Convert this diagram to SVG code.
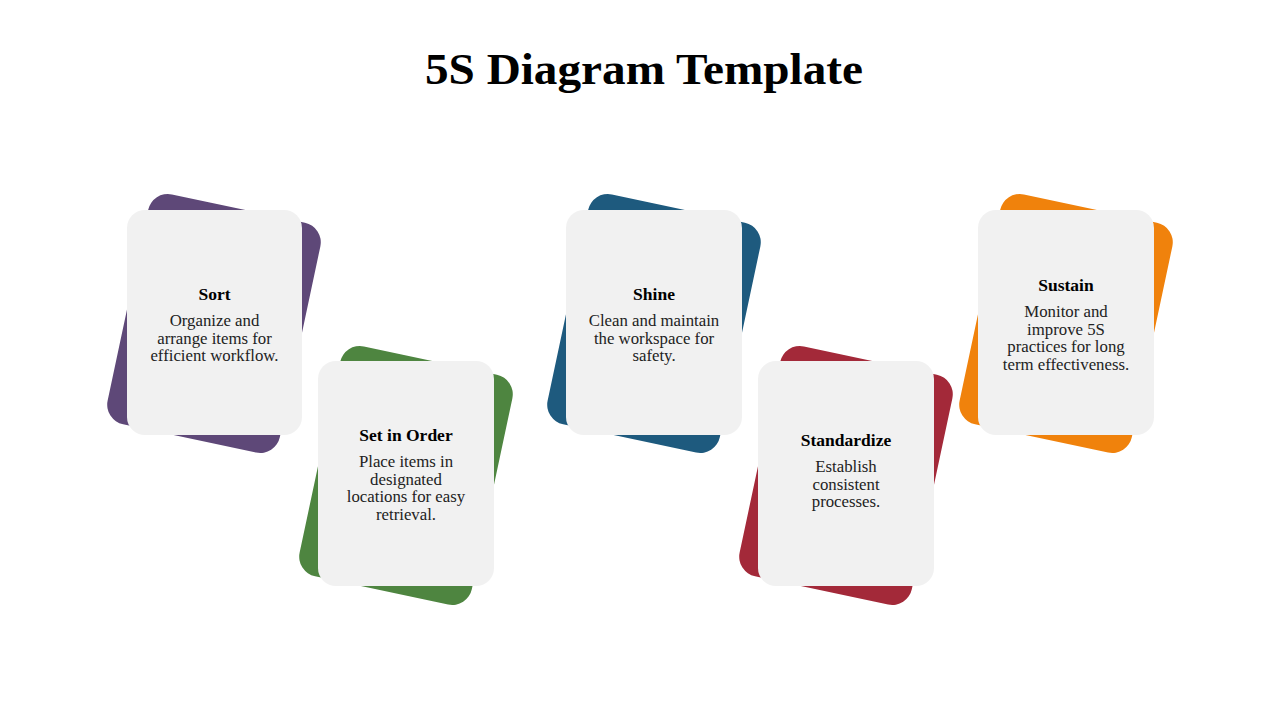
<svg xmlns="http://www.w3.org/2000/svg" width="1280" height="720" viewBox="0 0 1280 720">
<style>
.title{font-family:"Liberation Serif","DejaVu Serif",serif;font-weight:bold;font-size:44px;fill:#000;text-anchor:middle}
.card{fill:#F1F1F1}
.h{font-family:"Liberation Serif","DejaVu Serif",serif;font-weight:bold;font-size:17.5px;fill:#000;text-anchor:middle}
.d{font-family:"Liberation Serif","DejaVu Serif",serif;font-size:16.8px;fill:#222;text-anchor:middle}
</style>
<defs>
<rect id="back" x="-88" y="-117.5" width="176" height="235" rx="20"/>
</defs>
<rect width="1280" height="720" fill="#fff"/>
<text class="title" x="644" y="84" textLength="438" lengthAdjust="spacingAndGlyphs">5S Diagram Template</text>

<g id="sort">
<use href="#back" transform="translate(214,323.5) rotate(12)" fill="#5E4878"/>
<rect class="card" x="127" y="210" width="175" height="225" rx="18"/>
<text class="h" x="214.5" y="300">Sort</text>
<text class="d" x="214.5" y="326">Organize and</text>
<text class="d" x="214.5" y="344">arrange items for</text>
<text class="d" x="214.5" y="361">efficient workflow.</text>
</g>

<g id="set-in-order">
<use href="#back" transform="translate(406,475.5) rotate(12)" fill="#4E8540"/>
<rect class="card" x="318" y="361" width="176" height="225" rx="18"/>
<text class="h" x="406" y="441">Set in Order</text>
<text class="d" x="406" y="467">Place items in</text>
<text class="d" x="406" y="485">designated</text>
<text class="d" x="406" y="502">locations for easy</text>
<text class="d" x="406" y="520">retrieval.</text>
</g>

<g id="shine">
<use href="#back" transform="translate(654,323.5) rotate(12)" fill="#1E5A7E"/>
<rect class="card" x="566" y="210" width="176" height="225" rx="18"/>
<text class="h" x="654" y="300">Shine</text>
<text class="d" x="654" y="326">Clean and maintain</text>
<text class="d" x="654" y="344">the workspace for</text>
<text class="d" x="654" y="361">safety.</text>
</g>

<g id="standardize">
<use href="#back" transform="translate(846,475.5) rotate(12)" fill="#A32939"/>
<rect class="card" x="758" y="361" width="176" height="225" rx="18"/>
<text class="h" x="846" y="446">Standardize</text>
<text class="d" x="846" y="472">Establish</text>
<text class="d" x="846" y="490">consistent</text>
<text class="d" x="846" y="507">processes.</text>
</g>

<g id="sustain">
<use href="#back" transform="translate(1066,323.5) rotate(12)" fill="#F0820C"/>
<rect class="card" x="978" y="210" width="176" height="225" rx="18"/>
<text class="h" x="1066" y="291">Sustain</text>
<text class="d" x="1066" y="317">Monitor and</text>
<text class="d" x="1066" y="335">improve 5S</text>
<text class="d" x="1066" y="352">practices for long</text>
<text class="d" x="1066" y="370">term effectiveness.</text>
</g>

<g id="connectors"></g>
</svg>
